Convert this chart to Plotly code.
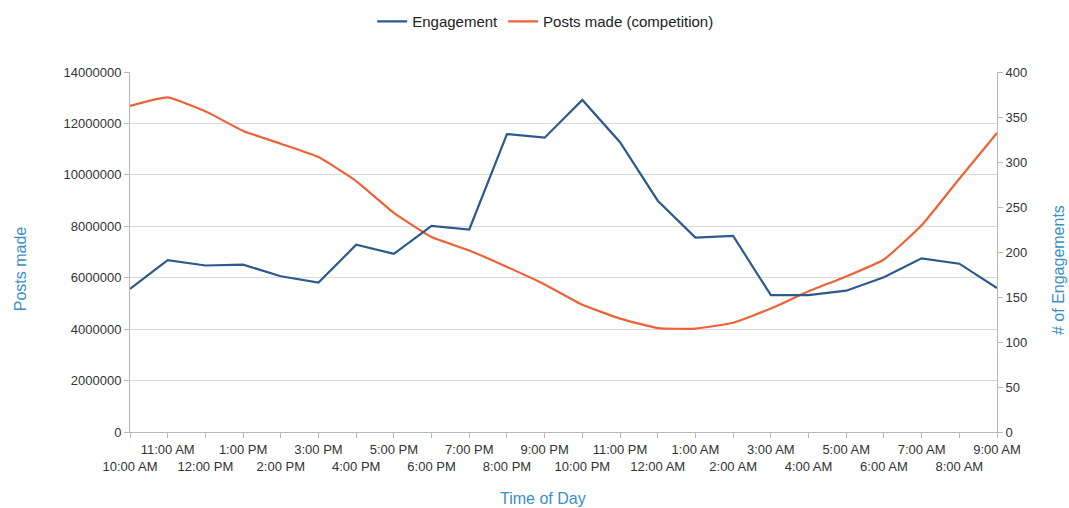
import plotly.graph_objects as go

hours = ["10:00 AM", "11:00 AM", "12:00 PM", "1:00 PM", "2:00 PM", "3:00 PM", "4:00 PM",
         "5:00 PM", "6:00 PM", "7:00 PM", "8:00 PM", "9:00 PM", "10:00 PM", "11:00 PM",
         "12:00 AM", "1:00 AM", "2:00 AM", "3:00 AM", "4:00 AM", "5:00 AM", "6:00 AM",
         "7:00 AM", "8:00 AM", "9:00 AM"]

engagement = [159, 191, 185, 186, 173, 166, 208, 198, 229, 225, 331, 327, 369, 322,
              257, 216, 218, 152, 152, 157, 172, 193, 187, 160]

posts_made = [12680000, 13010000, 12470000, 11710000, 11210000, 10690000, 9760000,
              8520000, 7580000, 7060000, 6420000, 5740000, 4950000, 4410000, 4040000,
              4020000, 4250000, 4800000, 5470000, 6050000, 6710000, 8040000, 9850000,
              11630000]

left_ticks = [0, 2000000, 4000000, 6000000, 8000000, 10000000, 12000000, 14000000]
right_ticks = [0, 50, 100, 150, 200, 250, 300, 350, 400]

FONT = "Liberation Sans, Arial, sans-serif"
BLUE = "#2c5a8a"
ORANGE = "#ee6238"
TITLE = "#3a8fc4"
GRID = "#d9d9d9"
AXIS = "#b8b8b8"

tick_text = [("<br>" + h) if i % 2 == 0 else h for i, h in enumerate(hours)]

fig = go.Figure()
fig.add_trace(go.Scatter(x=hours, y=engagement, name="Engagement", mode="lines",
                         line=dict(color=BLUE, width=2.2), yaxis="y2"))
fig.add_trace(go.Scatter(x=hours, y=posts_made, name="Posts made (competition)", mode="lines",
                         line=dict(color=ORANGE, width=2.2, shape="spline", smoothing=0.4),
                         yaxis="y"))

fig.update_layout(
    width=1069, height=508,
    margin=dict(l=130, r=72, t=72, b=76),
    paper_bgcolor="white", plot_bgcolor="white",
    font=dict(family=FONT, size=13, color="#333333"),
    showlegend=True,
    legend=dict(orientation="h", x=0.51, xref="container", xanchor="center",
                y=0.99, yref="container", yanchor="top",
                font=dict(size=15, color="#222222"), itemwidth=30,
                bgcolor="rgba(0,0,0,0)"),
    xaxis=dict(type="category", range=[0, 23], tickmode="array",
               tickvals=hours, ticktext=tick_text, tickangle=0, showgrid=False,
               showline=True, linecolor=AXIS, linewidth=1,
               ticks="outside", ticklen=5, tickcolor=AXIS,
               tickfont=dict(size=13, color="#333333"), zeroline=False),
    yaxis=dict(range=[0, 14000000], tickmode="array", tickvals=left_ticks,
               ticktext=[str(v) for v in left_ticks], showgrid=True, gridcolor=GRID,
               gridwidth=1, showline=True, linecolor=AXIS, ticks="outside",
               ticklen=5, tickcolor=AXIS, zeroline=False,
               tickfont=dict(size=13, color="#333333")),
    yaxis2=dict(range=[0, 400], tickmode="array", tickvals=right_ticks,
                overlaying="y", side="right", showgrid=False, showline=True,
                linecolor=AXIS, ticks="outside", ticklen=5, tickcolor=AXIS,
                zeroline=False, tickfont=dict(size=13, color="#333333")),
    annotations=[
        dict(text="Posts made", xref="paper", yref="paper", x=-110 / 867,
             y=0.452, xanchor="center", yanchor="middle", textangle=-90, showarrow=False,
             font=dict(size=16, color=TITLE, family=FONT)),
        dict(text="# of Engagements", xref="paper", yref="paper", x=1 + 61 / 867,
             y=0.45, xanchor="center", yanchor="middle", textangle=-90, showarrow=False,
             font=dict(size=16, color=TITLE, family=FONT)),
        dict(text="Time of Day", xref="paper", yref="paper", x=(543 - 130) / 867,
             y=-(498 - 432) / 360, xanchor="center", yanchor="middle", showarrow=False,
             font=dict(size=16, color=TITLE, family=FONT)),
    ],
)

fig.write_html("out.html")
